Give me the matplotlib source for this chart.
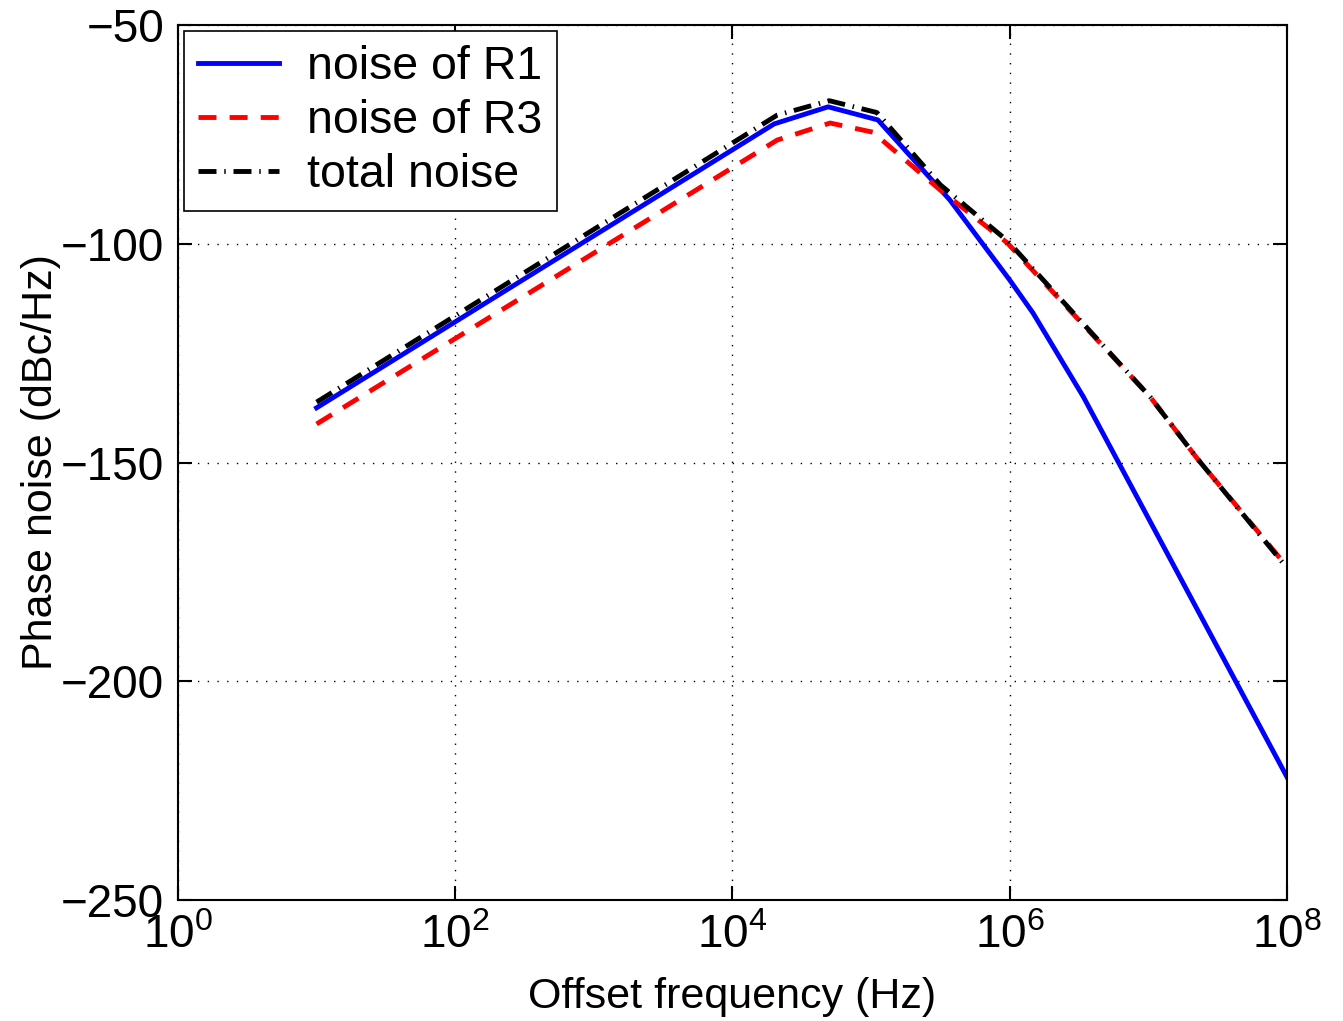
import numpy as np
import matplotlib.pyplot as plt
from matplotlib.ticker import FixedLocator, NullLocator

plt.rcParams['font.family'] = ['Liberation Sans', 'DejaVu Sans']
plt.rcParams['mathtext.fontset'] = 'custom'
plt.rcParams['mathtext.rm'] = 'Liberation Sans'
plt.rcParams['mathtext.it'] = 'Liberation Sans'

# noise of R1
f_r1 = [1e1, 2.0e4, 4.9e4, 1.12e5, 3.7e5, 1.0e6, 1.47e6, 3.4e6, 1e8]
pn_r1 = [-137.5, -72.6, -68.7, -71.7, -90.0, -108.3, -115.8, -135.0, -221.9]

# noise of R3
f_r3 = [1e1, 2.1e4, 5.06e4, 1.03e5, 3.15e5, 9.6e5, 1.03e7, 2.24e7, 1e8]
pn_r3 = [-141.2, -76.3, -72.4, -74.5, -87.7, -99.8, -135.0, -149.0, -173.8]

# total noise
f_tot = [1e1, 2.1e4, 5.0e4, 1.1e5, 3.15e5, 9.6e5, 1.03e7, 2.24e7, 1e8]
pn_tot = [-136.2, -70.6, -67.3, -70.0, -86.5, -99.3, -135.0, -149.0, -174.1]

x_ticks = [1e0, 1e2, 1e4, 1e6, 1e8]
x_ticklabels = [r'$10^{0}$', r'$10^{2}$', r'$10^{4}$', r'$10^{6}$', r'$10^{8}$']
y_ticks = [-250, -200, -150, -100, -50]

fig = plt.figure(figsize=(13.43, 10.21), dpi=100)
ax = fig.add_axes([0.1325, 0.1185, 0.8258, 0.857])

ax.plot(f_r1, pn_r1, color='#0000ff', lw=3.5, label='noise of R1')
ax.plot(f_r3, pn_r3, color='#ff0000', lw=3.5, ls=(0, (3.7, 2.7)), label='noise of R3')
ax.plot(f_tot, pn_tot, color='black', lw=3.5, ls=(0, (3.7, 1.6, 0.3, 1.6)), label='total noise')

ax.set_xscale('log')
ax.set_xlim(1e0, 1e8)
ax.set_ylim(-250, -50)
ax.xaxis.set_major_locator(FixedLocator(x_ticks))
ax.xaxis.set_minor_locator(NullLocator())
ax.set_xticklabels(x_ticklabels)
ax.set_yticks(y_ticks)
ax.set_yticklabels([str(v).replace('-', '\u2212') for v in y_ticks])

ax.grid(True, which='major', color='black', ls=(0, (1, 6)), lw=1)
ax.tick_params(direction='in', length=10, width=1.5, top=True, right=True,
               labelsize=33, pad=10)
for s in ax.spines.values():
    s.set_linewidth(1.5)

ax.set_xlabel('Offset frequency (Hz)', fontsize=31, labelpad=14)
ax.set_ylabel('Phase noise (dBc/Hz)', fontsize=31, labelpad=0)

leg = ax.legend(loc='upper left', fontsize=33.5, fancybox=False, framealpha=1,
                edgecolor='black', handlelength=1.75, borderaxespad=0.13,
                labelspacing=0.22, handletextpad=0.6, borderpad=0.3)
leg.get_frame().set_linewidth(1.2)

fig.savefig('out.png', dpi=100)
